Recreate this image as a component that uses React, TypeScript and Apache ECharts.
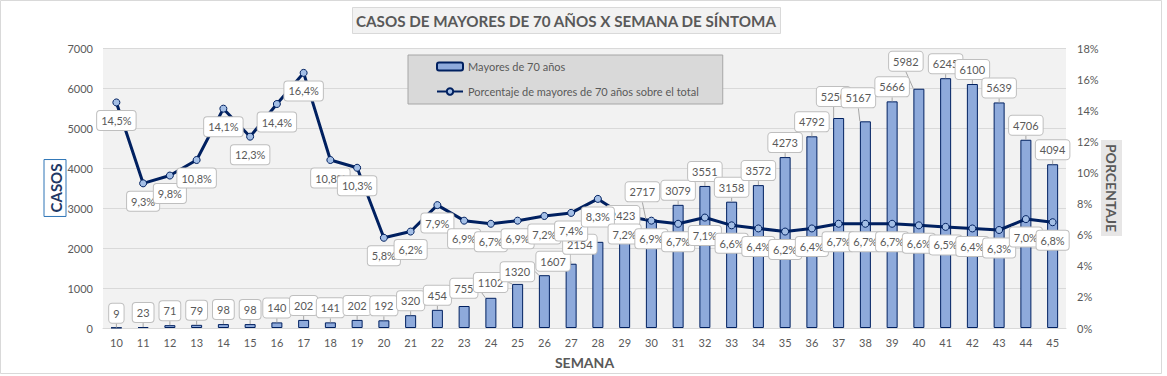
import React, { useEffect, useRef } from "react";
import * as echarts from "echarts";

const weeks = ["10","11","12","13","14","15","16","17","18","19","20","21","22","23","24","25","26","27","28","29","30","31","32","33","34","35","36","37","38","39","40","41","42","43","44","45"];
const cases = [9,23,71,79,98,98,140,202,141,202,192,320,454,550,755,1102,1320,1607,2154,2423,2717,3079,3551,3158,3572,4273,4792,5250,5167,5666,5982,6245,6100,5639,4706,4094];
const percent = [14.5,9.3,9.8,10.8,14.1,12.3,14.4,16.4,10.8,10.3,5.8,6.2,7.9,6.9,6.7,6.9,7.2,7.4,8.3,7.2,6.9,6.7,7.1,6.6,6.4,6.2,6.4,6.7,6.7,6.7,6.6,6.5,6.4,6.3,7.0,6.8];
const leftTicks = { min: 0, max: 7000, interval: 1000 };
const rightTicks = { min: 0, max: 18, interval: 2 };
const hiddenBarLabelWeeks = ["23"];
// style: manual label shifts (dx, dy) by week, as in the reference
const barLabelShift: Record<string, [number, number]> = {
  "24": [-27, 5], "25": [-27, 13], "26": [-27, 11], "27": [-18, 12], "28": [-18, 17],
  "29": [-2, -1], "30": [-9, -13], "37": [-5, -7], "38": [-7, -9], "40": [-13, -13],
};

const FONT = "Lato";
const TXT = "#595959";
const NAVY = "#002060";
const BAR_NAME = "Mayores de 70 años";
const LINE_NAME = "Porcentaje de mayores de 70 años sobre el total";

export default function App() {
  const ref = useRef<HTMLDivElement>(null);
  useEffect(() => {
    document.body.style.margin = "0";
    const chart = echarts.init(ref.current!, null, { renderer: "svg" });
    const labelBox = {
      backgroundColor: "#ffffff",
      borderColor: "#bfbfbf",
      borderWidth: 1,
      borderRadius: 3,
      padding: [3, 4, 3, 4],
      lineHeight: 13,
      color: TXT,
      fontSize: 11,
      fontFamily: FONT,
    };
    const barData = cases.map((v, i) =>
      hiddenBarLabelWeeks.includes(weeks[i]) ? { value: v, label: { show: false } } : v
    );
    chart.setOption({
      animation: false,
      backgroundColor: "#ffffff",
      textStyle: { fontFamily: FONT },
      title: {
        text: "CASOS DE MAYORES DE 70 AÑOS X SEMANA DE SÍNTOMA",
        left: 352,
        top: 7,
        padding: [3, 4, 3, 4],
        backgroundColor: "#f2f2f2",
        borderColor: "#d9d9d9",
        borderWidth: 1,
        textStyle: { fontSize: 15.2, fontWeight: "bold", color: TXT, fontFamily: FONT, lineHeight: 21 },
      },
      legend: {
        orient: "vertical",
        left: 408,
        top: 55,
        padding: [6, 24, 7, 28],
        itemGap: 14,
        itemWidth: 26,
        itemHeight: 8,
        backgroundColor: "#d9d9d9",
        borderColor: "#a6a6a6",
        borderWidth: 1,
        textStyle: { color: TXT, fontSize: 11, fontFamily: FONT },
        data: [BAR_NAME, LINE_NAME],
      },
      graphic: [
        {
          type: "rect",
          silent: true,
          z: -10,
          shape: { x: 0.5, y: 0.5, width: 1161, height: 373 },
          style: { fill: "none", stroke: "#d9d9d9", lineWidth: 1 },
        },
      ],
      grid: {
        left: 103,
        right: 101,
        top: 48,
        bottom: 48,
        show: true,
        backgroundColor: "#f2f2f2",
        borderWidth: 0,
      },
      xAxis: {
        type: "category",
        data: weeks,
        name: "SEMANA",
        nameLocation: "middle",
        nameGap: 27,
        nameMoveOverlap: false,
        nameTextStyle: { fontSize: 14, fontWeight: "bold", color: TXT, fontFamily: FONT },
        axisTick: { show: false },
        axisLine: { lineStyle: { color: "#d9d9d9" } },
        axisLabel: { color: TXT, fontSize: 11, margin: 9, fontFamily: FONT },
      },
      yAxis: [
        {
          type: "value",
          ...leftTicks,
          name: "CASOS",
          nameLocation: "middle",
          nameRotate: 90,
          nameGap: 37,
          nameMoveOverlap: false,
          nameTextStyle: {
            fontSize: 15,
            fontWeight: "bold",
            color: "#1f3864",
            fontFamily: FONT,
            borderColor: "#2e75b6",
            borderWidth: 1,
            padding: [4, 4, 3, 4],
          },
          axisLabel: { color: TXT, fontSize: 11, margin: 10, fontFamily: FONT, formatter: (v: number) => String(v) },
          splitLine: { lineStyle: { color: "#d9d9d9" } },
          axisLine: { show: false },
          axisTick: { show: false },
        },
        {
          type: "value",
          ...rightTicks,
          name: "PORCENTAJE",
          nameLocation: "middle",
          nameRotate: -90,
          nameGap: 35,
          nameMoveOverlap: false,
          nameTextStyle: {
            fontSize: 14,
            fontWeight: "bold",
            color: TXT,
            fontFamily: FONT,
            backgroundColor: "#e7e6e6",
            padding: [4, 4, 3, 4],
          },
          axisLabel: { color: TXT, fontSize: 11, margin: 11, fontFamily: FONT, formatter: "{value}%" },
          splitLine: { show: false },
          axisLine: { show: false },
          axisTick: { show: false },
        },
      ],
      series: [
        {
          name: BAR_NAME,
          type: "bar",
          yAxisIndex: 0,
          barWidth: 11,
          barGap: "-100%",
          z: 2,
          itemStyle: { color: "#8eaadb", borderColor: NAVY, borderWidth: 1 },
          data: cases,
          label: { show: false },
        },
        {
          name: LINE_NAME,
          type: "line",
          yAxisIndex: 1,
          z: 3,
          data: percent,
          symbol: "circle",
          symbolSize: 7,
          lineStyle: { color: NAVY, width: 3 },
          itemStyle: { color: "#a4bfe6", borderColor: NAVY, borderWidth: 1 },
          label: { show: false },
        },
        {
          // labels of the bars, drawn above the line
          name: "etiquetas-casos",
          type: "bar",
          yAxisIndex: 0,
          barWidth: 11,
          barGap: "-100%",
          z: 4,
          silent: true,
          itemStyle: { color: "rgba(0,0,0,0)", borderWidth: 0 },
          data: barData,
          label: { show: true, position: "top", distance: 5, ...labelBox },
          labelLine: { show: true, lineStyle: { color: "#a6a6a6", width: 1 } },
          labelLayout: (p: any) => {
            const s = barLabelShift[weeks[p.dataIndex]];
            return s ? { dx: s[0], dy: s[1] } : {};
          },
        },
        {
          // labels of the percentage line, drawn above everything
          name: "etiquetas-porcentaje",
          type: "line",
          yAxisIndex: 1,
          z: 5,
          silent: true,
          data: percent,
          symbol: "circle",
          symbolSize: 7,
          lineStyle: { opacity: 0, width: 0 },
          itemStyle: { color: "rgba(0,0,0,0)", borderWidth: 0 },
          label: {
            show: true,
            position: "bottom",
            distance: 5,
            ...labelBox,
            formatter: (p: any) => p.value.toFixed(1).replace(".", ",") + "%",
          },
        },
      ],
    });
    return () => chart.dispose();
  }, []);
  return <div ref={ref} style={{ width: 1167, height: 376 }} />;
}
